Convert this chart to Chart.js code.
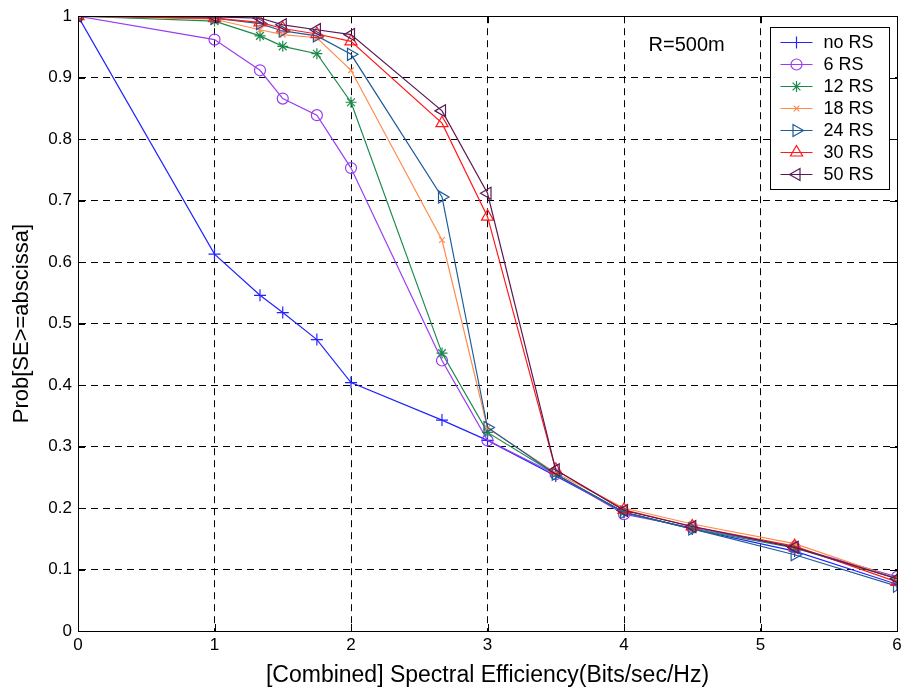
<!DOCTYPE html>
<html>
<head>
<meta charset="utf-8">
<script src="https://cdn.jsdelivr.net/npm/chart.js@4/dist/chart.umd.min.js"></script>
<style>
    html, body { margin: 0; padding: 0; background: #fff; }
    #wrap { width: 906px; height: 692px; }
</style>
</head>
<body>
<div id="wrap"><canvas id="seChart" width="906" height="692"></canvas></div>
<script>
// spectral efficiency abscissa (Bits/sec/Hz)
const xValues = [0, 1, 4 / 3, 1.5, 1.75, 2, 8 / 3, 3, 3.5, 4, 4.5, 5.25, 6];

const seriesNames = ['no RS', '6 RS', '12 RS', '18 RS', '24 RS', '30 RS', '50 RS'];

const noRS  = [1, 0.613, 0.546, 0.518, 0.474, 0.404, 0.343, 0.310, 0.252, 0.193, 0.166, 0.130, 0.076];
const rs6   = [1, 0.962, 0.912, 0.866, 0.839, 0.753, 0.440, 0.310, 0.255, 0.190, 0.168, 0.136, 0.088];
const rs12  = [1, 0.992, 0.968, 0.951, 0.939, 0.860, 0.452, 0.323, 0.255, 0.193, 0.166, 0.135, 0.085];
const rs18  = [1, 0.995, 0.978, 0.970, 0.965, 0.912, 0.636, 0.330, 0.257, 0.200, 0.174, 0.142, 0.085];
const rs24  = [1, 0.997, 0.988, 0.976, 0.968, 0.938, 0.706, 0.331, 0.255, 0.193, 0.166, 0.124, 0.073];
const rs30  = [1, 0.997, 0.990, 0.980, 0.971, 0.959, 0.826, 0.674, 0.262, 0.197, 0.170, 0.138, 0.080];
const rs50  = [1, 0.999, 0.997, 0.986, 0.978, 0.970, 0.846, 0.712, 0.262, 0.196, 0.170, 0.136, 0.085];

const seriesValues = [noRS, rs6, rs12, rs18, rs24, rs30, rs50];

const xTicks = [0, 1, 2, 3, 4, 5, 6];
const yTicks = [0, 0.1, 0.2, 0.3, 0.4, 0.5, 0.6, 0.7, 0.8, 0.9, 1];

const colors = ['#2323ff', '#9a3cf0', '#1c8a4c', '#ff8c4f', '#1f5c98', '#ff1a1a', '#5a1a55'];
const markers = [
    { style: 'cross', rot: 0, r: 6 },
    { style: 'circle', rot: 0, r: 5.5 },
    { style: 'star', rot: 0, r: 5.5 },
    { style: 'crossRot', rot: 0, r: 4 },
    { style: 'triangle', rot: 90, r: 7 },
    { style: 'triangle', rot: 0, r: 7 },
    { style: 'triangle', rot: 270, r: 7 }
];

const FONT = '"Liberation Sans", Arial, Helvetica, sans-serif';

const datasets = seriesNames.map((name, i) => ({
    label: name,
    data: xValues.map((x, k) => ({ x: x, y: seriesValues[i][k] })),
    borderColor: colors[i],
    backgroundColor: colors[i],
    borderWidth: 1.2,
    pointStyle: markers[i].style,
    pointRotation: markers[i].rot,
    pointRadius: markers[i].r,
    pointBorderWidth: 1.2,
    pointBorderColor: colors[i],
    pointBackgroundColor: 'rgba(0,0,0,0)',
    tension: 0,
    order: seriesNames.length - i
}));

// frame, inward ticks, legend box and the R=500m note
const matlabDecor = {
    id: 'matlabDecor',
    afterDraw(chart) {
        const ctx = chart.ctx;
        const area = chart.chartArea;
        const xs = chart.scales.x;
        const ys = chart.scales.y;
        ctx.save();

        ctx.strokeStyle = '#000';
        ctx.lineWidth = 1;
        ctx.beginPath();
        xTicks.forEach(v => {
            const px = Math.round(xs.getPixelForValue(v)) + 0.5;
            ctx.moveTo(px, area.bottom); ctx.lineTo(px, area.bottom - 7);
            ctx.moveTo(px, area.top); ctx.lineTo(px, area.top + 7);
        });
        yTicks.forEach(v => {
            const py = Math.round(ys.getPixelForValue(v)) + 0.5;
            ctx.moveTo(area.left, py); ctx.lineTo(area.left + 7, py);
            ctx.moveTo(area.right, py); ctx.lineTo(area.right - 7, py);
        });
        ctx.stroke();
        ctx.strokeRect(Math.round(area.left) + 0.5, Math.round(area.top) + 0.5,
            Math.round(area.right - area.left), Math.round(area.bottom - area.top));

        // note
        ctx.fillStyle = '#000';
        ctx.font = '20px ' + FONT;
        ctx.textBaseline = 'middle';
        ctx.textAlign = 'left';
        ctx.fillText('R=500m', xs.getPixelForValue(4.18), ys.getPixelForValue(0.952));

        // legend
        const bw = 119, bh = 162;
        const bx = Math.round(area.right - 8 - bw) + 0.5;
        const by = Math.round(area.top + 11) + 0.5;
        ctx.fillStyle = '#fff';
        ctx.fillRect(bx, by, bw, bh);
        ctx.strokeStyle = '#000';
        ctx.lineWidth = 1;
        ctx.strokeRect(bx, by, bw, bh);
        ctx.font = '18px ' + FONT;
        seriesNames.forEach((name, i) => {
            const cy = by + 15 + i * 22;
            ctx.strokeStyle = colors[i];
            ctx.lineWidth = 1.2;
            ctx.beginPath();
            ctx.moveTo(bx + 10, cy);
            ctx.lineTo(bx + 42, cy);
            ctx.stroke();
            ctx.fillStyle = 'rgba(0,0,0,0)';
            Chart.helpers.drawPoint(ctx, {
                pointStyle: markers[i].style,
                rotation: markers[i].rot,
                radius: markers[i].r,
                borderWidth: 1.2
            }, bx + 26, cy);
            ctx.fillStyle = '#000';
            ctx.fillText(name, bx + 53, cy + 1);
        });
        ctx.restore();
    }
};

new Chart(document.getElementById('seChart').getContext('2d'), {
    type: 'line',
    data: { datasets: datasets },
    plugins: [matlabDecor],
    options: {
        responsive: false,
        animation: false,
        events: [],
        layout: { padding: { top: 15, right: 9, left: 0, bottom: 0 } },
        plugins: {
            legend: { display: false },
            tooltip: { enabled: false }
        },
        scales: {
            x: {
                type: 'linear',
                min: 0,
                max: 6,
                afterBuildTicks: (scale) => { scale.ticks = xTicks.map(v => ({ value: v })); },
                afterFit: (scale) => { scale.height = 61; },
                ticks: {
                    color: '#000',
                    font: { family: FONT, size: 17 },
                    padding: 4,
                    maxRotation: 0,
                    callback: (v) => String(v)
                },
                grid: {
                    color: '#000',
                    lineWidth: 1,
                    drawTicks: false
                },
                border: { display: true, color: '#000', dash: [7, 5] },
                title: {
                    display: true,
                    text: '[Combined] Spectral Efficiency(Bits/sec/Hz)',
                    color: '#000',
                    font: { family: FONT, size: 23 },
                    padding: { top: 0, bottom: 3 }
                }
            },
            y: {
                type: 'linear',
                min: 0,
                max: 1,
                afterBuildTicks: (scale) => { scale.ticks = yTicks.map(v => ({ value: v })); },
                afterFit: (scale) => { scale.width = 78; },
                ticks: {
                    color: '#000',
                    font: { family: FONT, size: 17 },
                    padding: 6,
                    callback: (v) => String(+v.toFixed(1))
                },
                grid: {
                    color: '#000',
                    lineWidth: 1,
                    drawTicks: false
                },
                border: { display: true, color: '#000', dash: [7, 5] },
                title: {
                    display: true,
                    text: 'Prob[SE>=abscissa]',
                    color: '#000',
                    font: { family: FONT, size: 22 },
                    padding: { top: 9, bottom: 0 }
                }
            }
        }
    }
});
</script>
</body>
</html>
